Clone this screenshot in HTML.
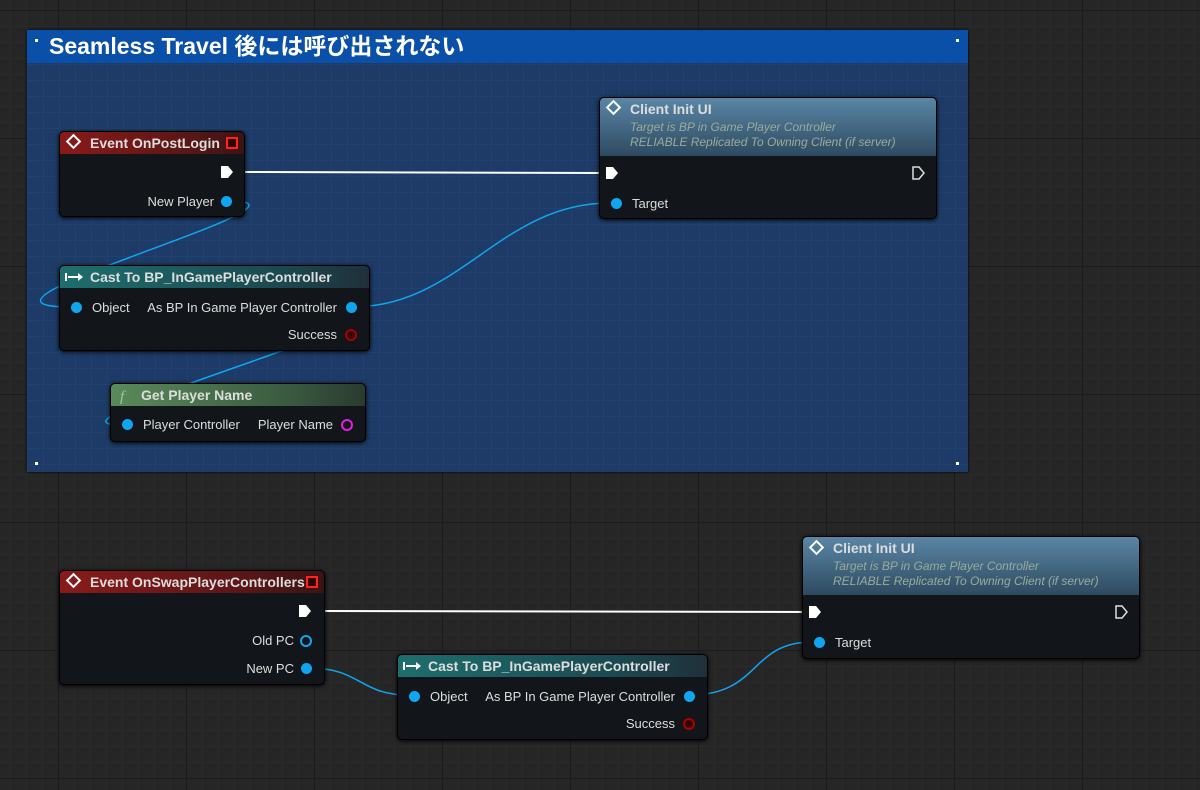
<!DOCTYPE html>
<html><head><meta charset="utf-8"><style>
body{margin:0;width:1200px;height:790px;overflow:hidden;background:#262626;
background-image:linear-gradient(#1c1c1c 1px,transparent 1px),linear-gradient(90deg,#1c1c1c 1px,transparent 1px),linear-gradient(#2a2a2a 1px,transparent 1px),linear-gradient(90deg,#2a2a2a 1px,transparent 1px);
background-size:128px 128px,128px 128px,16px 16px,16px 16px;background-position:58px 10px,58px 10px,58px 10px,58px 10px;
font-family:"Liberation Sans","Noto Sans CJK JP",sans-serif;position:relative}
.cm{position:absolute;left:27px;top:30px;width:941px;height:442px;background:#1d3b66;
background-image:linear-gradient(#21426f 1px,transparent 1px),linear-gradient(90deg,#21426f 1px,transparent 1px);background-size:16px 16px;background-position:0 2px;box-shadow:0 0 3px #000}
.cmh{position:absolute;left:0;top:0;right:0;height:33px;background:#0a4fa8;color:#fff;font-weight:bold;font-size:23px;line-height:33px;padding-left:22px}
.n{position:absolute;background:#12161a;border:1px solid #000;border-radius:5px;box-shadow:0 1px 4px #000;color:#ddd;font-size:13px;overflow:hidden}
.h{height:22px;line-height:22px;padding-left:30px;color:#ddd;font-weight:bold;font-size:14px;position:relative}
.t{position:absolute;font-size:13px;color:#ddd;white-space:nowrap}
.p{position:absolute;width:11px;height:11px;border-radius:50%;background:#10a6ef}
svg{position:absolute;left:0;top:0}
</style></head><body>
<div class="cm"><div class="cmh">Seamless Travel 後には呼び出されない</div>
<div style="position:absolute;left:8px;top:9px;width:3px;height:3px;background:#fff"></div>
<div style="position:absolute;right:9px;top:9px;width:3px;height:3px;background:#fff"></div>
<div style="position:absolute;left:8px;bottom:7px;width:3px;height:3px;background:#fff"></div>
<div style="position:absolute;right:9px;bottom:7px;width:3px;height:3px;background:#fff"></div></div>

<svg width="1200" height="790">
<g fill="none" stroke-width="1.5">
<path d="M243,172 L610,173" stroke="#fff" stroke-width="2"/>
<path d="M322,611 L812,612" stroke="#fff" stroke-width="2"/>
<path d="M230,201 C340,201 -70,307 70,307" stroke="#10a6ef"/>
<path d="M352,307 C460,307 500,203 610,203" stroke="#10a6ef"/>
<path d="M352,307 C460,307 20,425 121,425" stroke="#10a6ef"/>
<path d="M310,668 C360,668 360,695 408,695" stroke="#10a6ef"/>
<path d="M690,695 C760,695 750,642 812,642" stroke="#10a6ef"/>
</g></svg>

<div class="n" style="left:59px;top:131px;width:184px;height:84px">
<div class="h" style="background:linear-gradient(90deg,#8a1a1a,#5a1616 70%,#3a1414)">Event OnPostLogin
<span style="position:absolute;right:6px;top:5px;width:8px;height:8px;border:2px solid #f22;background:#300"></span></div>
<div class="t" style="right:30px;top:62px">New Player</div>
<div class="p" style="right:12px;top:64px"></div>
</div>
<div class="n" style="left:599px;top:97px;width:336px;height:120px">
<div style="height:58px;background:linear-gradient(#5a86a6,#2e4a60);position:relative">
<div class="h">Client Init UI</div>
<div style="padding-left:30px;font-style:italic;font-size:12px;color:#9aab9a;line-height:15px">Target is BP in Game Player Controller<br>RELIABLE Replicated To Owning Client (if server)</div></div>
<div class="p" style="left:11px;top:100px"></div>
<div class="t" style="left:32px;top:98px">Target</div>
</div>
<div class="n" style="left:59px;top:265px;width:309px;height:84px">
<div class="h" style="background:linear-gradient(90deg,#1e6e6e,#1a4a50 70%,#20303a)">Cast To BP_InGamePlayerController</div>
<div class="p" style="left:11px;top:36px"></div><div class="t" style="left:32px;top:34px">Object</div>
<div class="t" style="right:32px;top:34px">As BP In Game Player Controller</div><div class="p" style="right:12px;top:36px"></div>
<div class="t" style="right:32px;top:61px">Success</div><div class="p" style="right:12px;top:63px;background:#300;border:2px solid #a00;width:8px;height:8px"></div>
</div>
<div class="n" style="left:110px;top:383px;width:254px;height:57px">
<div class="h" style="background:linear-gradient(90deg,#5a8a5a,#3a5a40 70%,#2a3a30)">Get Player Name</div>
<div class="p" style="left:11px;top:35px"></div><div class="t" style="left:32px;top:33px">Player Controller</div>
<div class="t" style="right:32px;top:33px">Player Name</div><div class="p" style="right:12px;top:35px;background:none;border:2px solid #e020e0;width:8px;height:8px"></div>
</div>

<div class="n" style="left:59px;top:570px;width:264px;height:113px">
<div class="h" style="background:linear-gradient(90deg,#8a1a1a,#5a1616 70%,#3a1414)">Event OnSwapPlayerControllers
<span style="position:absolute;right:6px;top:5px;width:8px;height:8px;border:2px solid #f22;background:#300"></span></div>
<div class="t" style="right:30px;top:62px">Old PC</div><div class="p" style="right:12px;top:64px;background:none;border:2px solid #10a6ef;width:8px;height:8px"></div>
<div class="t" style="right:30px;top:90px">New PC</div><div class="p" style="right:12px;top:92px"></div>
</div>
<div class="n" style="left:397px;top:654px;width:309px;height:84px">
<div class="h" style="background:linear-gradient(90deg,#1e6e6e,#1a4a50 70%,#20303a)">Cast To BP_InGamePlayerController</div>
<div class="p" style="left:11px;top:36px"></div><div class="t" style="left:32px;top:34px">Object</div>
<div class="t" style="right:32px;top:34px">As BP In Game Player Controller</div><div class="p" style="right:12px;top:36px"></div>
<div class="t" style="right:32px;top:61px">Success</div><div class="p" style="right:12px;top:63px;background:#300;border:2px solid #a00;width:8px;height:8px"></div>
</div>
<div class="n" style="left:802px;top:536px;width:336px;height:121px">
<div style="height:58px;background:linear-gradient(#5a86a6,#2e4a60)">
<div class="h">Client Init UI</div>
<div style="padding-left:30px;font-style:italic;font-size:12px;color:#9aab9a;line-height:15px">Target is BP in Game Player Controller<br>RELIABLE Replicated To Owning Client (if server)</div></div>
<div class="p" style="left:11px;top:100px"></div>
<div class="t" style="left:32px;top:98px">Target</div>
</div>

<svg width="1200" height="790">
<g fill="#fff"><path d="M221,166 h7 l5,6 l-5,6 h-7z"/><path d="M606,167 h7 l5,6 l-5,6 h-7z"/>
<path d="M299,605 h7 l5,6 l-5,6 h-7z"/><path d="M809,606 h7 l5,6 l-5,6 h-7z"/></g>
<g fill="none" stroke="#ddd" stroke-width="1.5"><path d="M913,167 h6 l5,6 l-5,6 h-6z"/><path d="M1116,606 h6 l5,6 l-5,6 h-6z"/></g>
<g fill="none" stroke="#fff" stroke-width="2"><rect x="69" y="137" width="9" height="9" transform="rotate(45 73.5 141.5)"/>
<rect x="609" y="103" width="9" height="9" transform="rotate(45 613.5 107.5)"/><rect x="812" y="543" width="9" height="9" transform="rotate(45 816.5 547.5)"/>
<rect x="69" y="576" width="9" height="9" transform="rotate(45 73.5 580.5)"/></g>
<g fill="#fff"><path d="M66,273 v8 M68,277 h10" stroke="#fff" stroke-width="2"/><path d="M78,273 l5,4 l-5,4z"/>
<path d="M404,662 v8 M406,666 h10" stroke="#fff" stroke-width="2"/><path d="M416,662 l5,4 l-5,4z"/></g>
<text x="120" y="401" fill="#9c9" font-style="italic" font-family="Liberation Serif" font-size="15">f</text>
</svg>
</body></html>
